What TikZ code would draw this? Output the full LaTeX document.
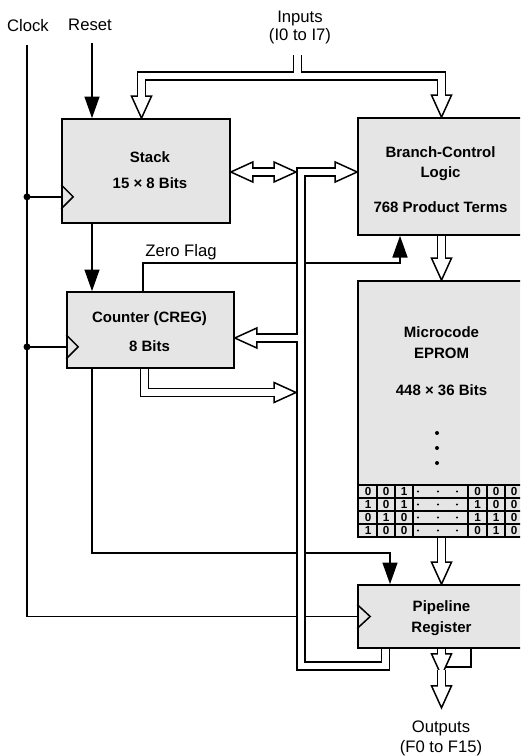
\documentclass[tikz,border=0pt]{standalone}
\usepackage{fontspec}
\setmainfont{Liberation Sans}
\usetikzlibrary{arrows.meta,fit,calc}

% the wide buses, drawn twice: black, then white inside
\newcommand\buspaths{%
  \draw[bus] (in) -- (inj) -- (inl) -- ($(inl |- stack.north)+(0,-19)$);
  \draw[bus] (inj) -- (inr) -- ($(inr |- bcl.north)+(0,-19)$);
  \draw[bus] (pipe.south -| mbr) -- (mbr) -- (mbl) -- (mbt) -- ($(bcl.west |- mbt)+(-19,0)$);
  \draw[bus] (cin) -- ($(creg.east |- cin)+(19,0)$);
  \draw[bus] (creg.south -| cout) -- (cout) -- ($(ctip)+(-19,0)$);
  \draw[bus] ($(stack.east |- mbt)+(19,0)$) -- ($(stip)+(-19,0)$);
  \draw[bus] (bcl.south) -- ($(eprom.north)+(0,-19)$);
  \draw[bus] (eprom.south) -- ($(pipe.north)+(0,-19)$);
  \draw[bus] (pipe.south) -- ($(o1)+(0,-19)$);
  \draw[bus] ($(o1)+(0,-6)$) -- ($(o2)+(0,-19)$);
}

\begin{document}
\begin{tikzpicture}[x=0.6pt,y=-0.6pt,
    wire/.style={line width=0.9pt},
    sarrow/.style={line width=0.9pt,-{Triangle[length=13pt,width=9pt]}},
    blk/.style={draw,line width=1pt,fill=black!10,inner sep=0pt},
    blktext/.style={align=center,inner sep=0pt},
    lbl/.style={font=\fontsize{10}{12}\selectfont,align=center,inner sep=0pt},
    bit/.style={font=\bfseries\fontsize{7}{8}\selectfont,inner sep=0pt},
    hhead/.pic={\draw[line width=0.9pt,fill=white] (0,0) -- (-22,-10) -- (-22,10) -- cycle;}]
    \useasboundingbox (0,0) rectangle (520,756);
    \clip (0,0) rectangle (520,756);

    % blocks
    \node[blk,fit={(62,119) (230,223)}] (stack) {};
    \node[blk,fit={(67,292) (234,368)}] (creg) {};
    \node[blk,fit={(358,118) (525,235)}] (bcl) {};
    \node[blk,fit={(358,281) (525,537)}] (eprom) {};
    \node[blk,fit={(358,585) (525,648)}] (pipe) {};

    \node[blktext,font=\bfseries\fontsize{9}{15.6}\selectfont] (stacktxt) at ($(stack.center)+(4,-1)$) {Stack\\15 × 8 Bits};
    \node[blktext,font=\bfseries\fontsize{9}{17.4}\selectfont] (cregtxt) at ($(creg.center)+(-1,2)$) {Counter (CREG)\\8 Bits};
    \node[blktext,font=\bfseries\fontsize{9}{12}\selectfont] (bcltxt) at ($(bcl.center)+(-1,3)$) {Branch-Control\\Logic\\[9pt]768 Product Terms};
    \node[blktext,font=\bfseries\fontsize{9}{12.6}\selectfont] (epromtxt) at ($(eprom.north)+(0,81)$) {Microcode\\EPROM\\[9.6pt]448 × 36 Bits};
    \node[blktext,font=\bfseries\fontsize{9}{12.6}\selectfont] (pipetxt) at ($(pipe.center)+(0,2)$) {Pipeline\\Register};

    % vertical dots and microcode words
    \fill (437,433) circle (2);
    \fill (437,448) circle (2);
    \fill (437,463) circle (2);
    \foreach \y in {485,498,511,524}
      \draw[line width=1.2pt] (358,\y) -- (525,\y);
    \foreach \x in {377,395,413,468,487,505,523}
      \draw[line width=1.2pt] (\x,485) -- (\x,537);
    \foreach \a/\b/\c/\d/\e/\f [count=\i from 0] in {0/0/1/0/0/0, 1/0/1/1/0/0, 0/1/0/1/1/0, 1/0/0/0/1/0}{
      \pgfmathsetmacro\ry{491.5+13*\i}
      \node[bit] (r\i-1) at (368,\ry) {\a};
      \node[bit] (r\i-2) at (386,\ry) {\b};
      \node[bit] (r\i-3) at (404,\ry) {\c};
      \node[bit] (r\i-4) at (477.5,\ry) {\d};
      \node[bit] (r\i-5) at (496,\ry) {\e};
      \node[bit] (r\i-6) at (514,\ry) {\f};
      \foreach \x in {418,438,457} \fill (\x,\ry) circle (1.1);
    }

    % labels
    \node[lbl] (clock) at (28,26) {Clock};
    \node[lbl] (reset) at (90,25) {Reset};
    \node[lbl,font=\fontsize{10}{10.8}\selectfont] (inputs) at (300,27) {Inputs\\(I0 to I7)};
    \node[lbl] (zflag) at (181,252) {Zero Flag};
    \node[lbl] (outputs) at (441,738) {Outputs\\(F0 to F15)};

    % clock
    \coordinate (clk) at (27,45);
    \coordinate (ckS) at ($(stack.south west)+(0,-27)$);
    \coordinate (ckC) at ($(creg.south west)+(0,-22)$);
    \draw[wire] (clk) |- (pipe.west);
    \draw[wire] (clk |- ckS) -- (ckS);
    \draw[wire] (clk |- ckC) -- (ckC);
    \fill (clk |- ckS) circle (3.5);
    \fill (clk |- ckC) circle (3.5);
    \draw[wire] ($(ckS)+(0,-12)$) -- ++(12,12) -- ++(-12,12);
    \draw[wire] ($(ckC)+(0,-12)$) -- ++(12,12) -- ++(-12,12);
    \draw[wire] ($(pipe.west)+(0,-12)$) -- ++(13,12) -- ++(-13,12);

    % single lines
    \coordinate (rst) at (92,43);
    \draw[sarrow] (rst) -- (rst |- stack.north);
    \draw[sarrow] (stack.south -| rst) -- (creg.north -| rst);
    \coordinate (zf) at (143,263);
    \coordinate (zfx) at (400,263);
    \draw[sarrow] (creg.north -| zf) -- (zf) -- (zfx) -- (bcl.south -| zfx);
    \coordinate (cp) at (92,553);
    \coordinate (cpx) at (390,553);
    \draw[sarrow] (creg.south -| cp) -- (cp) -- (cpx) -- (pipe.north -| cpx);
    \coordinate (fb) at (471,667);
    \coordinate (fbe) at (445,667);
    \draw[wire] (pipe.south -| fb) -- (fb) -- (fbe);

    % buses
    \coordinate (in) at (297.5,55);
    \coordinate (inj) at (297.5,76);
    \coordinate (inl) at (141.5,76);
    \coordinate (inr) at (441.5,76);
    \coordinate (mbr) at (385.5,666);
    \coordinate (mbl) at (301,666);
    \coordinate (mbt) at (301,172);
    \coordinate (cin) at (301,338);
    \coordinate (cout) at (144.5,392.5);
    \coordinate (ctip) at ($(mbl |- cout)+(-5,0)$);
    \coordinate (stip) at ($(mbt)+(-5,0)$);
    \coordinate (o1) at ($(pipe.south)+(0,27)$);
    \coordinate (o2) at ($(pipe.south)+(0,59)$);

    \tikzset{bus/.style={black,line width=5.7pt,line join=miter}}
    \buspaths
    \pic[rotate=-90] at (inl |- stack.north) {hhead};
    \pic[rotate=-90] at (inr |- bcl.north) {hhead};
    \pic at (bcl.west |- mbt) {hhead};
    \pic[rotate=180] at (creg.east |- cin) {hhead};
    \pic at (ctip) {hhead};
    \pic[rotate=180] at (stack.east |- mbt) {hhead};
    \pic at (stip) {hhead};
    \pic[rotate=-90] at (eprom.north) {hhead};
    \pic[rotate=-90] at (pipe.north) {hhead};
    \pic[rotate=-90] at (o1) {hhead};
    \pic[rotate=-90] at (o2) {hhead};
    \tikzset{bus/.style={white,line width=3.9pt,line join=miter}}
    \buspaths
\end{tikzpicture}
\end{document}
